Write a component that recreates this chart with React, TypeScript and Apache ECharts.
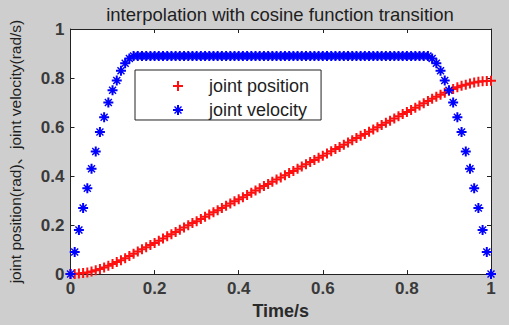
import React, { useEffect, useRef } from "react";
import * as echarts from "echarts";

const time = [
  0, 0.01, 0.02, 0.03, 0.04, 0.05, 0.06, 0.07, 0.08, 0.09,
  0.1, 0.11, 0.12, 0.13, 0.14, 0.15, 0.16, 0.17, 0.18, 0.19,
  0.2, 0.21, 0.22, 0.23, 0.24, 0.25, 0.26, 0.27, 0.28, 0.29,
  0.3, 0.31, 0.32, 0.33, 0.34, 0.35, 0.36, 0.37, 0.38, 0.39,
  0.4, 0.41, 0.42, 0.43, 0.44, 0.45, 0.46, 0.47, 0.48, 0.49,
  0.5, 0.51, 0.52, 0.53, 0.54, 0.55, 0.56, 0.57, 0.58, 0.59,
  0.6, 0.61, 0.62, 0.63, 0.64, 0.65, 0.66, 0.67, 0.68, 0.69,
  0.7, 0.71, 0.72, 0.73, 0.74, 0.75, 0.76, 0.77, 0.78, 0.79,
  0.8, 0.81, 0.82, 0.83, 0.84, 0.85, 0.86, 0.87, 0.88, 0.89,
  0.9, 0.91, 0.92, 0.93, 0.94, 0.95, 0.96, 0.97, 0.98, 0.99,
  1,
];

const jointPosition = [
  0, 0.0, 0.002, 0.004, 0.007, 0.011, 0.016, 0.021, 0.027, 0.034,
  0.041, 0.049, 0.057, 0.065, 0.074, 0.083, 0.092, 0.101, 0.11, 0.119,
  0.127, 0.136, 0.145, 0.154, 0.163, 0.172, 0.181, 0.19, 0.199, 0.208,
  0.216, 0.225, 0.234, 0.243, 0.252, 0.261, 0.27, 0.279, 0.288, 0.297,
  0.305, 0.314, 0.323, 0.332, 0.341, 0.35, 0.359, 0.368, 0.377, 0.386,
  0.394, 0.403, 0.412, 0.421, 0.43, 0.439, 0.448, 0.457, 0.466, 0.475,
  0.483, 0.492, 0.501, 0.51, 0.519, 0.528, 0.537, 0.546, 0.555, 0.564,
  0.572, 0.581, 0.59, 0.599, 0.608, 0.617, 0.626, 0.635, 0.644, 0.653,
  0.661, 0.67, 0.679, 0.688, 0.697, 0.706, 0.715, 0.724, 0.732, 0.74,
  0.748, 0.755, 0.762, 0.768, 0.773, 0.778, 0.782, 0.785, 0.787, 0.788,
  0.789,
];

const jointVelocity = [
  0, 0.09, 0.18, 0.27, 0.35, 0.43, 0.5, 0.58, 0.64, 0.7,
  0.75, 0.79, 0.83, 0.86, 0.88, 0.89, 0.89, 0.89, 0.89, 0.89,
  0.89, 0.89, 0.89, 0.89, 0.89, 0.89, 0.89, 0.89, 0.89, 0.89,
  0.89, 0.89, 0.89, 0.89, 0.89, 0.89, 0.89, 0.89, 0.89, 0.89,
  0.89, 0.89, 0.89, 0.89, 0.89, 0.89, 0.89, 0.89, 0.89, 0.89,
  0.89, 0.89, 0.89, 0.89, 0.89, 0.89, 0.89, 0.89, 0.89, 0.89,
  0.89, 0.89, 0.89, 0.89, 0.89, 0.89, 0.89, 0.89, 0.89, 0.89,
  0.89, 0.89, 0.89, 0.89, 0.89, 0.89, 0.89, 0.89, 0.89, 0.89,
  0.89, 0.89, 0.89, 0.89, 0.89, 0.89, 0.88, 0.86, 0.83, 0.79,
  0.75, 0.7, 0.64, 0.58, 0.5, 0.43, 0.35, 0.27, 0.18, 0.09,
  0,
];

const xTickLabels = ["0", "0.2", "0.4", "0.6", "0.8", "1"];
const yTickLabels = ["0", "0.2", "0.4", "0.6", "0.8", "1"];
const seriesNames = ["joint position", "joint velocity"];
const titleText = "interpolation with cosine function transition";
const xAxisName = "Time/s";
const yAxisName = "joint position(rad)\u3001joint velocity(rad/s)";

const FONT = "'Liberation Sans', Arial, 'Noto Sans CJK SC', sans-serif";

const PLUS = "path://M4,0H6V4H10V6H6V10H4V6H0V4H4Z";
const STAR =
  "path://M4,0H6V10H4Z M0,4H10V6H0Z M2,1L9,8L8,9L1,2Z M8,1L9,2L2,9L1,8Z M5,2L8,5L5,8L2,5Z";

export default function App() {
  const ref = useRef<HTMLDivElement>(null);

  useEffect(() => {
    document.body.style.margin = "0";
    if (!ref.current) return;
    const chart = echarts.init(ref.current, undefined, { renderer: "svg" });

    const axisLine = { show: true, onZero: false, lineStyle: { color: "#222", width: 1 } };
    const axisTick = { show: true, inside: true, length: 4, lineStyle: { color: "#222" } };
    const labelStyle = {
      fontSize: 17,
      fontWeight: "bold" as const,
      color: "#3a3a3a",
      fontFamily: FONT,
    };

    chart.setOption({
      animation: false,
      backgroundColor: "#cecece",
      graphic: [
        {
          type: "text",
          x: 280,
          y: 14,
          style: {
            text: titleText,
            align: "center",
            verticalAlign: "middle",
            fontSize: 18.5,
            fontFamily: FONT,
            fill: "#1e1e1e",
          },
        },
      ],
      grid: {
        left: 69,
        right: 18,
        top: 29,
        bottom: 50,
        show: true,
        backgroundColor: "#ffffff",
        borderWidth: 0,
      },
      legend: {
        left: 135,
        top: 70,
        orient: "vertical",
        padding: [7, 12, 1, 38],
        itemWidth: 52,
        itemHeight: 10,
        itemGap: 6,
        backgroundColor: "#ffffff",
        borderColor: "#222",
        borderWidth: 1,
        selectedMode: false,
        textStyle: { fontSize: 18, color: "#1e1e1e", fontFamily: FONT },
        data: seriesNames,
      },
      xAxis: [
        {
          type: "value",
          min: 0,
          max: 1,
          interval: 0.2,
          position: "bottom",
          axisLine,
          axisTick,
          splitLine: { show: false },
          axisLabel: {
            ...labelStyle,
            margin: 6,
            formatter: (_v: number, i: number) => xTickLabels[i],
          },
          name: xAxisName,
          nameLocation: "middle",
          nameGap: 19,
          nameTextStyle: { fontSize: 18, fontWeight: "bold", color: "#2a2a2a", fontFamily: FONT },
        },
        {
          type: "value",
          min: 0,
          max: 1,
          interval: 0.2,
          position: "top",
          axisLine,
          axisTick,
          splitLine: { show: false },
          axisLabel: { show: false },
        },
      ],
      yAxis: [
        {
          type: "value",
          min: 0,
          max: 1,
          interval: 0.2,
          position: "left",
          axisLine,
          axisTick,
          splitLine: { show: false },
          axisLabel: {
            ...labelStyle,
            margin: 6,
            formatter: (_v: number, i: number) => yTickLabels[i],
          },
          name: yAxisName,
          nameLocation: "middle",
          nameRotate: 90,
          nameGap: 47,
          nameTextStyle: { fontSize: 15.5, color: "#1e1e1e", fontFamily: FONT },
        },
        {
          type: "value",
          min: 0,
          max: 1,
          interval: 0.2,
          position: "right",
          axisLine,
          axisTick,
          splitLine: { show: false },
          axisLabel: { show: false },
        },
      ],
      series: [
        {
          name: seriesNames[0],
          type: "scatter",
          xAxisIndex: 0,
          yAxisIndex: 0,
          symbol: PLUS,
          symbolSize: 10,
          itemStyle: { color: "#ff1010", opacity: 1 },
          data: time.map((t, i) => [t, jointPosition[i]]),
        },
        {
          name: seriesNames[1],
          type: "scatter",
          xAxisIndex: 0,
          yAxisIndex: 0,
          symbol: STAR,
          symbolSize: 10,
          itemStyle: { color: "#0000ff", opacity: 1 },
          data: time.map((t, i) => [t, jointVelocity[i]]),
        },
      ],
    });

    return () => chart.dispose();
  }, []);

  return <div ref={ref} style={{ width: 509, height: 325 }} />;
}
